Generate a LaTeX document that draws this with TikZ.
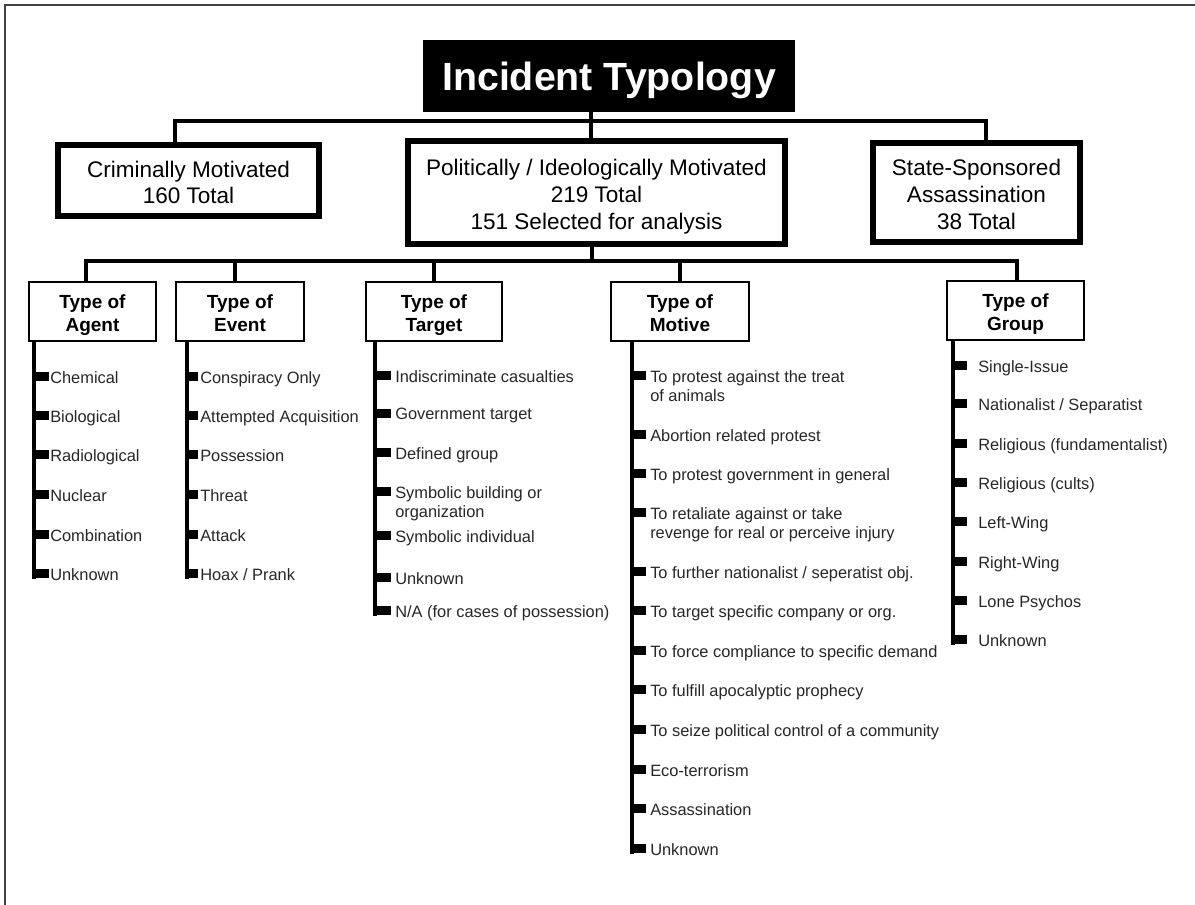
\documentclass[tikz,border=0pt]{standalone}
\usepackage{fontspec}
\setmainfont{Liberation Sans}
\usetikzlibrary{calc}
\newcommand\boxstrut{\rule{0pt}{1.1em}}
\tikzset{
  headbox/.style={fill=black,text=white,inner sep=0pt,text depth=0pt,minimum width=279pt,minimum height=54pt,font=\fontsize{29.5}{34}\selectfont\bfseries},
  catbox/.style={draw,fill=white,line width=3pt,inner sep=0pt,align=center,font=\fontsize{16.9}{20}\selectfont,
    execute at end node={\rule[-3.6pt]{0pt}{3.6pt}}},
  typebox/.style={draw,fill=white,line width=1.2pt,inner sep=0pt,align=center,minimum height=44.6pt,font=\fontsize{14.25}{17.25}\selectfont\bfseries,
    execute at end node={\rule[-3pt]{0pt}{3pt}}},
  item/.style={anchor=north west,inner sep=0pt,align=left,text=black!85,font=\fontsize{12.3}{14.25}\selectfont},
  tree/.style={line width=2.6pt},
  spine/.style={line width=3.2pt},
  frameline/.style={black!75,line width=1.9pt}
}
\begin{document}
\begin{tikzpicture}[x=0.75pt,y=-0.75pt]
\path[use as bounding box] (0,0) rectangle (1195,905);
\draw[frameline] (5,905) -- (5,5) -- (1195,5);
\node[headbox] (title) at (609,76) {Incident Typology};
\node[catbox,minimum width=197.25pt,minimum height=54.75pt] (crim) at (188.5,180.5) {\boxstrut Criminally Motivated\\160 Total};
\node[catbox,minimum width=284.25pt,minimum height=78.75pt] (pol) at (596.5,192.5) {\boxstrut Politically / Ideologically Motivated\\219 Total\\151 Selected for analysis};
\node[catbox,minimum width=156.75pt,minimum height=75.75pt] (state) at (976.5,192.5) {\boxstrut State-Sponsored\\Assassination\\38 Total};
\draw[line width=0.9pt] ($(crim.north west)+(5,5)$) rectangle ($(crim.south east)+(-5,-5)$);
\draw[line width=0.9pt] ($(pol.north west)+(5,5)$) rectangle ($(pol.south east)+(-5,-5)$);
\draw[line width=0.9pt] ($(state.north west)+(5,5)$) rectangle ($(state.south east)+(-5,-5)$);
\coordinate (bar1) at (591,121);
\draw[tree] (title.south -| bar1) -- (bar1);
\draw[tree] ([xshift=-10pt]crim.north) |- (bar1) -| ([xshift=7pt]state.north);
\draw[tree] (bar1) -- (pol.north -| bar1);
\node[typebox,minimum width=95.5pt] (agent) at (92.5,311.5) {\boxstrut Type of\\Agent};
\node[typebox,minimum width=96pt] (event) at (240,311.5) {\boxstrut Type of\\Event};
\node[typebox,minimum width=102pt] (target) at (434,311.5) {\boxstrut Type of\\Target};
\node[typebox,minimum width=103.5pt] (motive) at (680,311.5) {\boxstrut Type of\\Motive};
\node[typebox,minimum width=103pt] (group) at (1015.5,310.5) {\boxstrut Type of\\Group};
\coordinate (bar2) at (592,261);
\draw[tree] (pol.south -| bar2) -- (bar2);
\draw[tree] ([xshift=-4.9pt]agent.north) |- (bar2) -| ([xshift=1pt]group.north);
\draw[tree] ([xshift=-3.75pt]event.north) -- ([xshift=-3.75pt]event.north |- bar2);
\draw[tree] (target.north) -- (target.north |- bar2);
\draw[tree] (motive.north) -- (motive.north |- bar2);
\coordinate (agx) at (34,0);
\coordinate (evx) at (187,0);
\coordinate (tgx) at (375,0);
\coordinate (mox) at (632,0);
\coordinate (grx) at (953,0);
\node[item] (ag1) at (50,371) {Chemical};
\node[item] (ag2) at (50,410) {Biological};
\node[item] (ag3) at (50,449) {Radiological};
\node[item] (ag4) at (50,489) {Nuclear};
\node[item] (ag5) at (50,529) {Combination};
\node[item] (ag6) at (50,568) {Unknown};
\draw[spine] (agent.south -| agx) -- ([yshift=-8.5pt]agx |- ag6.north);
\fill ($(agx |- ag1.north)+(0,1)$) rectangle ($(ag1.north west)+(-1,10)$);
\fill ($(agx |- ag2.north)+(0,1)$) rectangle ($(ag2.north west)+(-1,10)$);
\fill ($(agx |- ag3.north)+(0,1)$) rectangle ($(ag3.north west)+(-1,10)$);
\fill ($(agx |- ag4.north)+(0,1)$) rectangle ($(ag4.north west)+(-1,10)$);
\fill ($(agx |- ag5.north)+(0,1)$) rectangle ($(ag5.north west)+(-1,10)$);
\fill ($(agx |- ag6.north)+(0,1)$) rectangle ($(ag6.north west)+(-1,10)$);
\node[item] (ev1) at (200,371) {Conspiracy Only};
\node[item] (ev2) at (200,410) {Attempted Acquisition};
\node[item] (ev3) at (200,449) {Possession};
\node[item] (ev4) at (200,489) {Threat};
\node[item] (ev5) at (200,529) {Attack};
\node[item] (ev6) at (200,568) {Hoax / Prank};
\draw[spine] (event.south -| evx) -- ([yshift=-8.5pt]evx |- ev6.north);
\fill ($(evx |- ev1.north)+(0,1)$) rectangle ($(ev1.north west)+(-2,10)$);
\fill ($(evx |- ev2.north)+(0,1)$) rectangle ($(ev2.north west)+(-2,10)$);
\fill ($(evx |- ev3.north)+(0,1)$) rectangle ($(ev3.north west)+(-2,10)$);
\fill ($(evx |- ev4.north)+(0,1)$) rectangle ($(ev4.north west)+(-2,10)$);
\fill ($(evx |- ev5.north)+(0,1)$) rectangle ($(ev5.north west)+(-2,10)$);
\fill ($(evx |- ev6.north)+(0,1)$) rectangle ($(ev6.north west)+(-2,10)$);
\node[item] (tg1) at (395,370) {Indiscriminate casualties};
\node[item] (tg2) at (395,408) {Government target};
\node[item] (tg3) at (395,447) {Defined group};
\node[item] (tg4) at (395,486) {Symbolic building or\\organization};
\node[item] (tg5) at (395,530) {Symbolic individual};
\node[item] (tg6) at (395,572) {Unknown};
\node[item] (tg7) at (395,605) {N/A (for cases of possession)};
\draw[spine] (target.south -| tgx) -- ([yshift=-8.5pt]tgx |- tg7.north);
\fill ($(tgx |- tg1.north)+(0,1)$) rectangle ($(tg1.north west)+(-4,10)$);
\fill ($(tgx |- tg2.north)+(0,1)$) rectangle ($(tg2.north west)+(-4,10)$);
\fill ($(tgx |- tg3.north)+(0,1)$) rectangle ($(tg3.north west)+(-4,10)$);
\fill ($(tgx |- tg4.north)+(0,1)$) rectangle ($(tg4.north west)+(-4,10)$);
\fill ($(tgx |- tg5.north)+(0,1)$) rectangle ($(tg5.north west)+(-4,10)$);
\fill ($(tgx |- tg6.north)+(0,1)$) rectangle ($(tg6.north west)+(-4,10)$);
\fill ($(tgx |- tg7.north)+(0,1)$) rectangle ($(tg7.north west)+(-4,10)$);
\node[item] (mo1) at (650,370) {To protest against the treat\\of animals};
\node[item] (mo2) at (650,429) {Abortion related protest};
\node[item] (mo3) at (650,468) {To protest government in general};
\node[item] (mo4) at (650,507) {To retaliate against or take\\revenge for real or perceive injury};
\node[item] (mo5) at (650,566) {To further nationalist / seperatist obj.};
\node[item] (mo6) at (650,605) {To target specific company or org.};
\node[item] (mo7) at (650,645) {To force compliance to specific demand};
\node[item] (mo8) at (650,684) {To fulfill apocalyptic prophecy};
\node[item] (mo9) at (650,724) {To seize political control of a community};
\node[item] (mo10) at (650,764) {Eco-terrorism};
\node[item] (mo11) at (650,803) {Assassination};
\node[item] (mo12) at (650,843) {Unknown};
\draw[spine] (motive.south -| mox) -- ([yshift=-8.5pt]mox |- mo12.north);
\fill ($(mox |- mo1.north)+(0,1)$) rectangle ($(mo1.north west)+(-4,10)$);
\fill ($(mox |- mo2.north)+(0,1)$) rectangle ($(mo2.north west)+(-4,10)$);
\fill ($(mox |- mo3.north)+(0,1)$) rectangle ($(mo3.north west)+(-4,10)$);
\fill ($(mox |- mo4.north)+(0,1)$) rectangle ($(mo4.north west)+(-4,10)$);
\fill ($(mox |- mo5.north)+(0,1)$) rectangle ($(mo5.north west)+(-4,10)$);
\fill ($(mox |- mo6.north)+(0,1)$) rectangle ($(mo6.north west)+(-4,10)$);
\fill ($(mox |- mo7.north)+(0,1)$) rectangle ($(mo7.north west)+(-4,10)$);
\fill ($(mox |- mo8.north)+(0,1)$) rectangle ($(mo8.north west)+(-4,10)$);
\fill ($(mox |- mo9.north)+(0,1)$) rectangle ($(mo9.north west)+(-4,10)$);
\fill ($(mox |- mo10.north)+(0,1)$) rectangle ($(mo10.north west)+(-4,10)$);
\fill ($(mox |- mo11.north)+(0,1)$) rectangle ($(mo11.north west)+(-4,10)$);
\fill ($(mox |- mo12.north)+(0,1)$) rectangle ($(mo12.north west)+(-4,10)$);
\node[item] (gr1) at (978,360) {Single-Issue};
\node[item] (gr2) at (978,398) {Nationalist / Separatist};
\node[item] (gr3) at (978,438) {Religious (fundamentalist)};
\node[item] (gr4) at (978,477) {Religious (cults)};
\node[item] (gr5) at (978,516) {Left-Wing};
\node[item] (gr6) at (978,556) {Right-Wing};
\node[item] (gr7) at (978,595) {Lone Psychos};
\node[item] (gr8) at (978,634) {Unknown};
\draw[spine] (group.south -| grx) -- ([yshift=-8.5pt]grx |- gr8.north);
\fill ($(grx |- gr1.north)+(0,1)$) rectangle ($(gr1.north west)+(-11,10)$);
\fill ($(grx |- gr2.north)+(0,1)$) rectangle ($(gr2.north west)+(-11,10)$);
\fill ($(grx |- gr3.north)+(0,1)$) rectangle ($(gr3.north west)+(-11,10)$);
\fill ($(grx |- gr4.north)+(0,1)$) rectangle ($(gr4.north west)+(-11,10)$);
\fill ($(grx |- gr5.north)+(0,1)$) rectangle ($(gr5.north west)+(-11,10)$);
\fill ($(grx |- gr6.north)+(0,1)$) rectangle ($(gr6.north west)+(-11,10)$);
\fill ($(grx |- gr7.north)+(0,1)$) rectangle ($(gr7.north west)+(-11,10)$);
\fill ($(grx |- gr8.north)+(0,1)$) rectangle ($(gr8.north west)+(-11,10)$);
\end{tikzpicture}
\end{document}
